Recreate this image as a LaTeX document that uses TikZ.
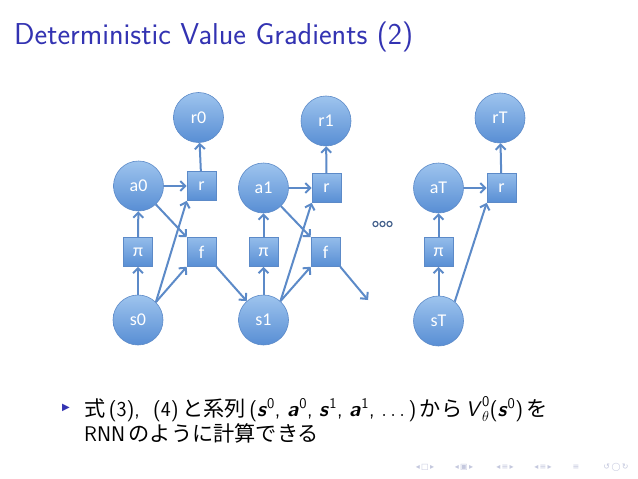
\documentclass[tikz,border=0pt]{standalone}
\usepackage{fontspec}
\newfontfamily\calfont{Carlito}
\newfontfamily\jpfont{Noto Sans CJK JP}
\newfontfamily\symfont{DejaVu Sans}
\usetikzlibrary{arrows.meta}
\definecolor{titleblue}{RGB}{51,51,178}
\definecolor{shadetop}{RGB}{158,196,238}
\definecolor{shadebot}{RGB}{88,142,212}
\definecolor{edgeblue}{RGB}{92,138,200}
\definecolor{arrowblue}{RGB}{92,138,200}
\definecolor{dotblue}{RGB}{60,90,135}
\definecolor{navgray}{RGB}{196,200,222}
\newcommand\J[1]{{\jpfont #1}}
\newcommand\bsym[1]{\textbf{\textit{#1}}}
\tikzset{
  circ/.style={circle, minimum size=50pt, inner sep=0pt, draw=edgeblue, line width=0.6pt,
    top color=shadetop, bottom color=shadebot, text=white, font=\calfont\fontsize{18}{18}\selectfont},
  sq/.style={rectangle, minimum size=29pt, inner sep=0pt, draw=edgeblue, line width=0.6pt,
    top color=shadetop!85!shadebot, bottom color=shadebot, text=white, font=\calfont\fontsize{18}{18}\selectfont},
  arr/.style={draw=arrowblue, line width=2pt, -{Straight Barb[length=5pt,width=10pt]}},
  dotc/.style={circle, draw=dotblue, line width=1.1pt, minimum size=5.2pt, inner sep=0pt},
  navsym/.style={text=navgray, font=\symfont\fontsize{8}{8}\selectfont, inner sep=0pt}
}
\begin{document}
\begin{tikzpicture}[x=1pt,y=-1pt]
\useasboundingbox[fill=white] (0,0) rectangle (638,479);
% title
\node[anchor=base west, inner sep=0pt, text=titleblue, font=\sffamily\fontsize{30.2}{34}\selectfont] (title) at (14,45) {Deterministic Value Gradients (2)};
% step 0
\node[circ] (r0) at (198.5,117.5) {r0};
\node[circ] (a0) at (138.5,186) {a0};
\node[sq] (rb0) at (201.5,186) {r};
\node[sq] (p0) at (138,252) {π};
\node[sq] (f0) at (201.5,252) {f};
\node[circ] (s0) at (138,320) {s0};
% step 1
\node[circ] (r1) at (326,121) {r1};
\node[circ] (a1) at (263.5,188) {a1};
\node[sq] (rb1) at (326.5,188) {r};
\node[sq] (p1) at (263.5,252) {π};
\node[sq] (f1) at (325.5,252) {f};
\node[circ] (s1) at (263.5,320) {s1};
\coordinate (e1) at (368,300);
% step T
\node[circ] (rT) at (500,118) {rT};
\node[circ] (aT) at (438.5,188) {aT};
\node[sq] (rbT) at (501.5,188) {r};
\node[sq] (pT) at (438.5,252) {π};
\node[circ] (sT) at (438.5,321) {sT};
% dots
\node[dotc] (d1) at (375.5,224) {};
\node[dotc] (d2) at (382.5,224) {};
\node[dotc] (d3) at (389.5,224) {};
% connectors step 0
\draw[arr] (s0) -- (p0);
\draw[arr] (p0) -- (a0);
\draw[arr] (a0) -- (rb0);
\draw[arr] (rb0) -- (r0);
\draw[arr] (a0) -- (f0.north west);
\draw[arr] (s0.45) -- (rb0.south west);
\draw[arr] (s0.45) -- (f0.south west);
\draw[arr] (f0.south east) -- (s1);
% connectors step 1
\draw[arr] (s1) -- (p1);
\draw[arr] (p1) -- (a1);
\draw[arr] (a1) -- (rb1);
\draw[arr] (rb1) -- (r1);
\draw[arr] (a1) -- (f1.north west);
\draw[arr] (s1.48) -- (rb1.south west);
\draw[arr] (s1.48) -- (f1.south west);
\draw[arr] (f1.south east) -- (e1);
% connectors step T
\draw[arr] (sT) -- (pT);
\draw[arr] (pT) -- (aT);
\draw[arr] (aT) -- (rbT);
\draw[arr] (rbT) -- (rT);
\draw[arr] (sT.50) -- (rbT.south west);
% bullet text
\node[anchor=center, inner sep=0pt, text=titleblue, font=\symfont\fontsize{10}{10}\selectfont] (bul) at (66,408) {▶};
\node[anchor=base west, inner sep=0pt, font=\sffamily\fontsize{21.2}{26}\selectfont] (l1) at (84,416)
  {\J{式}\,(3),\ \ (4)\,\J{と系列}\,(\bsym{s}\textsuperscript{0}, \bsym{a}\textsuperscript{0}, \bsym{s}\textsuperscript{1}, \bsym{a}\textsuperscript{1}, $\ldots$\,)\,\J{から}\,$\mbox{\textit{V}}^{\mathsf{0}}_{\theta}$(\bsym{s}\textsuperscript{0})\,\J{を}};
\node[anchor=base west, inner sep=0pt, font=\sffamily\fontsize{21.2}{26}\selectfont] (l2) at (84,441)
  {RNN\,\J{のように計算できる}};
% navigation symbols
\node[navsym] (n1) at (425,467) {◂\,□\,▸};
\node[navsym] (n2) at (464,467) {◂\,▣\,▸};
\node[navsym] (n3) at (505,467) {◂\,≡\,▸};
\node[navsym] (n4) at (543,467) {◂\,≡\,▸};
\node[navsym] (n5) at (576,467) {≡};
\node[navsym] (n6) at (616,467) {↺\,◯\,↻};
\end{tikzpicture}
\end{document}
